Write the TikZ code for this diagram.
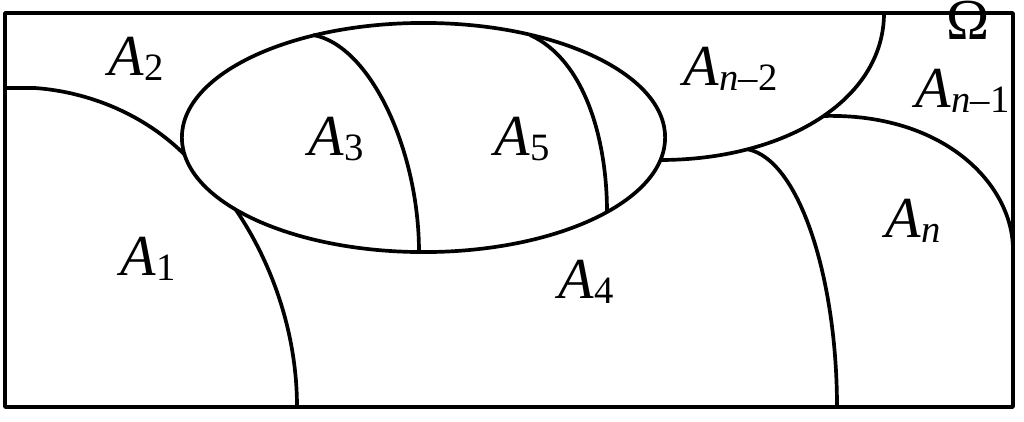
\documentclass[tikz,border=0pt]{standalone}
\usepackage{fontspec}
\setmainfont{Liberation Serif}
\newcommand{\lowidx}[1]{\raisebox{-1.6pt}{\fontsize{11}{12}\selectfont #1}}
\newcommand{\setA}[1]{\textit{A}\lowidx{#1}}
\tikzset{
  border/.style={line width=1.05pt},
  region/.style={anchor=base west,inner sep=0pt,font=\fontsize{16.5}{18}\selectfont}
}
\begin{document}
\begin{tikzpicture}[x=0.01cm,y=-0.01cm,line join=round] % partition of Omega
  \useasboundingbox (0,0) rectangle (1024,421);
  \draw[border] (5,13) rectangle (1013,407);
  \draw[border] (423.5,137.5) ellipse [x radius=2.415cm,y radius=1.145cm];
  % boundaries between the sets
  \draw[border] (5,88) -- (35,88) .. controls (90,92) and (145,115) .. (185,155);
  \draw[border] (236,210) .. controls (270,260) and (297,330) .. (297,407);
  \draw[border] (313,35) .. controls (370,45) and (419,150) .. (419,252);
  \draw[border] (530,35) .. controls (585,60) and (607,140) .. (607,212);
  \draw[border] (660,160) .. controls (785,160) and (884,100)
    .. coordinate[pos=0.25] (q) coordinate[pos=0.52] (p) (884,13);
  \draw[border] (p) .. controls (945,113) and (1013,185) .. (1013,250);
  \draw[border] (q) .. controls (800,160) and (837,280) .. (837,407);
  % labels
  \node[region] (a2) at (108,75) {\setA{2}};
  \node[region] (a3) at (308,155) {\setA{3}};
  \node[region] (a5) at (494,155) {\setA{5}};
  \node[region] (an2) at (683,85) {\setA{\textit{n}–2}};
  \node[region] (om) at (946,39) {Ω};
  \node[region] (an1) at (915,107) {\setA{\textit{n}–1}};
  \node[region] (a1) at (120,275) {\setA{1}};
  \node[region] (a4) at (558,298) {\setA{4}};
  \node[region] (an) at (885,237) {\setA{\textit{n}}};
\end{tikzpicture}
\end{document}
